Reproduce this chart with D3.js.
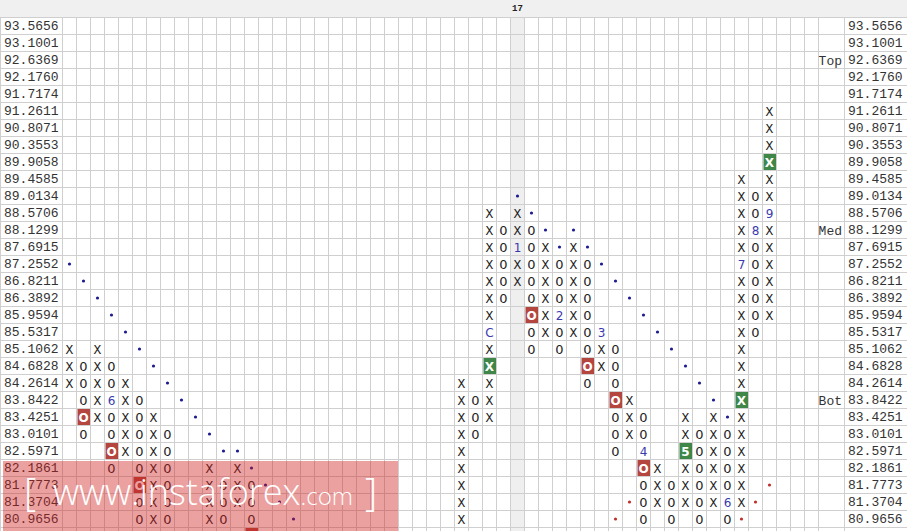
<!DOCTYPE html>
<html><head><meta charset="utf-8">
<script src="https://cdn.jsdelivr.net/npm/d3@7"></script>
<style>html,body{margin:0;padding:0;background:#fff;overflow:hidden}</style>
</head><body>
<svg id="chart" width="907" height="531"></svg>
<script>
// ---- data ----
const priceLevels = [93.5656,93.1001,92.6369,92.1760,91.7174,91.2611,90.8071,90.3553,89.9058,89.4585,89.0134,88.5706,88.1299,87.6915,87.2552,86.8211,86.3892,85.9594,85.5317,85.1062,84.6828,84.2614,83.8422,83.4251,83.0101,82.5971,82.1861,81.7773,81.3704,80.9656,80.5628];
const columnSlots = d3.range(54);
const colIndex = [0,1,2,3,4,5,6,7,10,11,12,13,28,29,30,31,32,33,34,35,36,37,38,39,40,41,42,43,44,45,46,47,48,49,50];
const colType  = ["X","O","X","O","X","O","X","O","X","O","X","O","X","O","X","O","X","O","X","O","X","O","X","O","X","O","X","O","X","O","X","O","X","O","X"];
const colHigh  = [85.1062,84.6828,85.1062,84.6828,84.2614,83.8422,83.4251,83.0101,82.1861,81.7773,82.1861,81.7773,84.2614,83.8422,88.5706,88.1299,88.5706,88.1299,87.6915,87.2552,87.6915,87.2552,85.5317,85.1062,83.8422,83.4251,82.1861,81.7773,83.4251,83.0101,83.4251,83.0101,89.4585,89.0134,91.2611];
const colLow   = [84.2614,83.0101,83.4251,82.1861,82.5971,80.9656,80.9656,80.9656,80.9656,80.9656,81.3704,80.5628,80.9656,83.0101,83.4251,86.3892,86.8211,85.1062,85.5317,85.1062,85.5317,84.2614,84.6828,82.5971,83.0101,80.9656,81.3704,80.9656,81.3704,80.9656,81.3704,80.9656,81.3704,85.5317,85.9594];

const markCol   = [3,30,32,35,38,41,44,47,48,49,50];
const markPrice = [83.8422,85.5317,87.6915,85.9594,85.5317,82.5971,82.5971,81.3704,87.2552,88.1299,88.5706];
const markText  = ["6","C","1","2","3","4","5","6","7","8","9"];

const redCol   = [1,3,5,13,33,37,39,41];
const redPrice = [83.4251,82.5971,81.7773,80.5628,85.9594,84.6828,83.8422,82.1861];
const greenCol   = [30,44,48,50];
const greenPrice = [84.6828,82.5971,83.8422,89.9058];

const blueDotCol   = [0,1,2,3,4,5,6,7,8,9,10,11,12,13,14,15,16,32,33,34,35,36,37,38,39,40,41,42,43,44,45,46,47];
const blueDotPrice = [87.2552,86.8211,86.3892,85.9594,85.5317,85.1062,84.6828,84.2614,83.8422,83.4251,83.0101,82.5971,82.5971,82.1861,81.7773,81.3704,80.9656,89.0134,88.5706,88.1299,87.6915,88.1299,87.6915,87.2552,86.8211,86.3892,85.9594,85.5317,85.1062,84.6828,84.2614,83.8422,83.4251];
const redDotCol   = [39,40,48,49,50];
const redDotPrice = [80.9656,81.3704,80.9656,81.3704,81.7773];

const sideLabels = ["Top","Med","Bot"];
const sidePrice  = [92.6369,88.1299,83.8422];
const headerCol = 32, headerText = "17";

// ---- layout ----
const W = 907, H = 531;
const svg = d3.select("#chart");
const fmt = d3.format(".4f");
const x = d3.scaleBand().domain(columnSlots).range([62.5, 62.5 + 14*54]);
const y = d3.scaleBand().domain(priceLevels.map(fmt)).range([17.5, 17.5 + 17*priceLevels.length]);
const cx = c => x(c) + x.bandwidth()/2;
const cy = p => y(fmt(p)) + y.bandwidth()/2;
const gridRight = x(53) + x.bandwidth();   // 818.5
const labelCol = 844.5;

// header band
svg.append("rect").attr("x",0).attr("y",0).attr("width",W).attr("height",17.5).attr("fill","#f0f0f0");
// highlighted column
svg.append("rect").attr("x",x(headerCol)).attr("y",17.5).attr("width",x.bandwidth()).attr("height",H).attr("fill","#efefef");
svg.append("text").attr("x",cx(headerCol)).attr("y",11).attr("text-anchor","middle")
  .attr("font-family","Liberation Mono, monospace").attr("font-weight","bold").attr("font-size",9).attr("fill","#222").text(headerText);

// grid
const grid = svg.append("g").attr("stroke","#cfcfcf").attr("stroke-width",1);
const rowEdges = priceLevels.map(p => y(fmt(p))).concat([y(fmt(priceLevels[priceLevels.length-1])) + y.bandwidth()]);
grid.selectAll("line.h").data(rowEdges).join("line").attr("class","h")
  .attr("x1",0).attr("x2",W).attr("y1",d=>d).attr("y2",d=>d);
const colEdges = [0.5].concat(columnSlots.map(c => x(c))).concat([gridRight, labelCol]);
grid.selectAll("line.v").data(colEdges).join("line").attr("class","v")
  .attr("x1",d=>d).attr("x2",d=>d).attr("y1",17.5).attr("y2",H);

// highlight cells
const cells = svg.append("g");
cells.selectAll("rect.red").data(redCol.map((c,i)=>({c, p:redPrice[i]}))).join("rect")
  .attr("x",d=>x(d.c)+1).attr("y",d=>y(fmt(d.p))+0.5).attr("width",x.bandwidth()-1.5).attr("height",y.bandwidth()-1)
  .attr("fill","#b5453f");
cells.selectAll("rect.green").data(greenCol.map((c,i)=>({c, p:greenPrice[i]}))).join("rect")
  .attr("x",d=>x(d.c)+1).attr("y",d=>y(fmt(d.p))+0.5).attr("width",x.bandwidth()-1.5).attr("height",y.bandwidth()-1)
  .attr("fill","#3f8748");

// build box list
const key = (c,p) => c + "|" + fmt(p);
const marks = new Map(markCol.map((c,i)=>[key(c,markPrice[i]), markText[i]]));
const reds = new Set(redCol.map((c,i)=>key(c,redPrice[i])));
const greens = new Set(greenCol.map((c,i)=>key(c,greenPrice[i])));
const boxes = [];
colIndex.forEach((c,i) => {
  priceLevels.forEach(p => {
    if (p <= colHigh[i] + 1e-6 && p >= colLow[i] - 1e-6) {
      const k = key(c,p);
      const hl = reds.has(k) || greens.has(k);
      const m = marks.get(k);
      boxes.push({c, p, t: m || colType[i], digit: !!m, hl});
    }
  });
});

const txt = svg.append("g").attr("text-anchor","middle");
txt.selectAll("text").data(boxes).join("text")
  .attr("x",d=>cx(d.c)).attr("y",d=>cy(d.p)+4.5)
  .attr("font-family",d=> d.hl ? "DejaVu Sans, Verdana, sans-serif" : (d.digit ? "DejaVu Sans, Verdana, sans-serif" : "Liberation Mono, Courier New, monospace"))
  .attr("font-weight",d=>d.hl ? "bold" : "normal")
  .attr("font-size",d=>d.hl ? 12 : (d.digit ? 12 : 13))
  .attr("fill",d=>d.hl ? "#ffffff" : (d.digit ? "#3a3ab0" : "#222"))
  .text(d=>d.t);

// dots
svg.append("g").selectAll("circle").data(blueDotCol.map((c,i)=>({c,p:blueDotPrice[i]}))).join("circle")
  .attr("cx",d=>cx(d.c)).attr("cy",d=>cy(d.p)).attr("r",1.6).attr("fill","#1c1c90");
svg.append("g").selectAll("circle").data(redDotCol.map((c,i)=>({c,p:redDotPrice[i]}))).join("circle")
  .attr("cx",d=>cx(d.c)).attr("cy",d=>cy(d.p)).attr("r",1.6).attr("fill","#c0302a");

// price axes
const shownLevels = priceLevels.slice(0, 30).map(fmt);
const leftAxis = d3.axisRight(y).tickValues(shownLevels).tickSize(0).tickPadding(4);
const gl = svg.append("g").attr("transform","translate(0,0)").call(leftAxis);
const rightAxis = d3.axisRight(y).tickValues(shownLevels).tickSize(0).tickPadding(4);
const gr = svg.append("g").attr("transform",`translate(${labelCol-0.5},0)`).call(rightAxis);
[gl, gr].forEach(g => {
  g.select(".domain").remove();
  g.selectAll("text").attr("font-family","Liberation Mono, Courier New, monospace").attr("font-size",13).attr("fill","#333").attr("dy","0.34em");
});

// Top / Med / Bot
svg.append("g").selectAll("text").data(sideLabels.map((t,i)=>({t,p:sidePrice[i]}))).join("text")
  .attr("x",labelCol-2.5).attr("y",d=>cy(d.p)+4.5).attr("text-anchor","end")
  .attr("font-family","Liberation Mono, Courier New, monospace").attr("font-size",13).attr("fill","#333").text(d=>d.t);

// watermark
const wm = svg.append("g");
wm.append("rect").attr("x",3).attr("y",461).attr("width",395).attr("height",75).attr("fill","rgba(210,30,30,0.42)");
const wt = wm.append("g").attr("fill","#fff").attr("font-family","Open Sans, sans-serif");
wt.append("text").attr("x",24).attr("y",506).attr("font-size",38).attr("font-weight",300).text("[");
wt.append("text").attr("x",53).attr("y",505).attr("font-size",36).attr("font-weight",300)
  .html('www.instaforex<tspan font-size="24">.com</tspan>');
wt.append("text").attr("x",365).attr("y",506).attr("font-size",38).attr("font-weight",300).text("]");
</script>
</body></html>
